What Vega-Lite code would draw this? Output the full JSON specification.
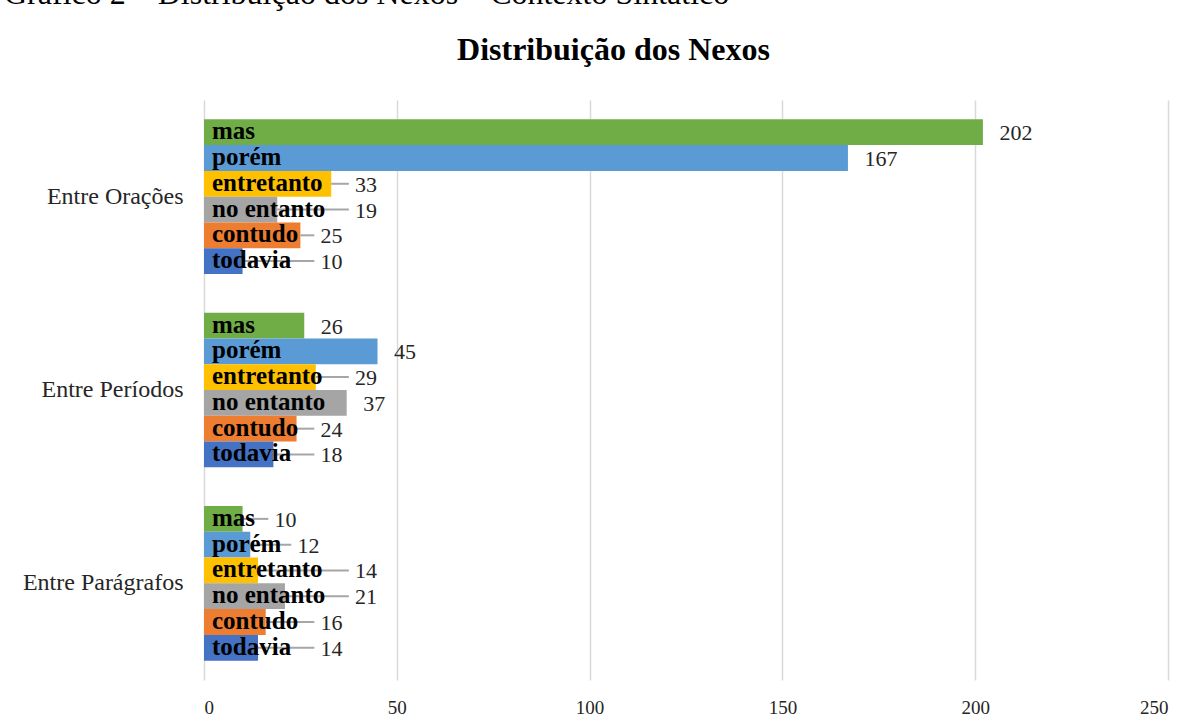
{
  "$schema": "https://vega.github.io/schema/vega-lite/v6.json",
  "width": 964,
  "height": 580,
  "autosize": {"type": "none"},
  "padding": {"left": 204, "top": 100, "right": 35, "bottom": 48},
  "background": "white",
  "title": {
    "text": "Gráfico 2 – Distribuição dos Nexos – Contexto Sintático",
    "anchor": "start",
    "frame": "group",
    "font": "Liberation Serif",
    "fontSize": 32,
    "fontWeight": 400,
    "color": "black",
    "dx": -200,
    "offset": 22
  },
  "config": {
    "view": {"stroke": null},
    "font": "Liberation Serif"
  },
  "data": {
    "values": [
      {"contexto": "Entre Orações", "nexo": "mas", "valor": 202},
      {"contexto": "Entre Orações", "nexo": "porém", "valor": 167},
      {"contexto": "Entre Orações", "nexo": "entretanto", "valor": 33},
      {"contexto": "Entre Orações", "nexo": "no entanto", "valor": 19},
      {"contexto": "Entre Orações", "nexo": "contudo", "valor": 25},
      {"contexto": "Entre Orações", "nexo": "todavia", "valor": 10},
      {"contexto": "Entre Períodos", "nexo": "mas", "valor": 26},
      {"contexto": "Entre Períodos", "nexo": "porém", "valor": 45},
      {"contexto": "Entre Períodos", "nexo": "entretanto", "valor": 29},
      {"contexto": "Entre Períodos", "nexo": "no entanto", "valor": 37},
      {"contexto": "Entre Períodos", "nexo": "contudo", "valor": 24},
      {"contexto": "Entre Períodos", "nexo": "todavia", "valor": 18},
      {"contexto": "Entre Parágrafos", "nexo": "mas", "valor": 10},
      {"contexto": "Entre Parágrafos", "nexo": "porém", "valor": 12},
      {"contexto": "Entre Parágrafos", "nexo": "entretanto", "valor": 14},
      {"contexto": "Entre Parágrafos", "nexo": "no entanto", "valor": 21},
      {"contexto": "Entre Parágrafos", "nexo": "contudo", "valor": 16},
      {"contexto": "Entre Parágrafos", "nexo": "todavia", "valor": 14}
    ]
  },
  "transform": [
    {"calculate": "(36 + length(datum.nexo) * 11.5) / 3.856", "as": "nameEnd"},
    {"calculate": "max(datum.valor + 4.3, datum.nameEnd)", "as": "lx"},
    {"calculate": "datum.lx - 1.6", "as": "lxe"},
    {"calculate": "datum.nameEnd > datum.valor + 4.3", "as": "lead"}
  ],
  "encoding": {
    "y": {
      "field": "contexto",
      "type": "nominal",
      "sort": ["Entre Orações", "Entre Períodos", "Entre Parágrafos"],
      "scale": {"paddingInner": 0.2, "paddingOuter": 0.1},
      "axis": {
        "title": null,
        "domain": false,
        "ticks": false,
        "labelFont": "Liberation Serif",
        "labelFontSize": 24,
        "labelColor": "#262626",
        "labelPadding": 21
      }
    },
    "yOffset": {
      "field": "nexo",
      "type": "nominal",
      "sort": ["mas", "porém", "entretanto", "no entanto", "contudo", "todavia"],
      "scale": {"paddingInner": 0, "paddingOuter": 0}
    }
  },
  "resolve": {"axis": {"x": "independent"}},
  "layer": [
    {
      "mark": {"type": "bar"},
      "encoding": {
        "x": {
          "field": "valor",
          "type": "quantitative",
          "scale": {"domain": [0, 250], "nice": false},
          "axis": {
            "title": null,
            "orient": "bottom",
            "values": [0, 50, 100, 150, 200, 250],
            "grid": true,
            "gridColor": "#d9d9d9",
            "gridWidth": 1.5,
            "domain": false,
            "ticks": false,
            "labelFont": "Liberation Serif",
            "labelFontSize": 19,
            "labelColor": "#262626",
            "labelPadding": 18
          }
        },
        "color": {
          "field": "nexo",
          "type": "nominal",
          "scale": {
            "domain": ["mas", "porém", "entretanto", "no entanto", "contudo", "todavia"],
            "range": ["#70AD47", "#5B9BD5", "#FFC000", "#A5A5A5", "#ED7D31", "#4472C4"]
          },
          "legend": null
        }
      }
    },
    {
      "transform": [{"filter": "datum.lead"}],
      "mark": {"type": "rule", "color": "#a6a6a6", "strokeWidth": 2, "yOffset": 2},
      "encoding": {
        "x": {
          "field": "valor",
          "type": "quantitative",
          "axis": {
            "orient": "top",
            "labels": false,
            "ticks": false,
            "domain": false,
            "grid": false,
            "title": "Distribuição dos Nexos",
            "titleFont": "Liberation Serif",
            "titleFontSize": 32,
            "titleFontWeight": "bold",
            "titleColor": "black",
            "titleX": 409,
            "titleY": -41,
            "titleAlign": "center",
            "titleBaseline": "alphabetic"
          }
        },
        "x2": {"field": "lxe"}
      }
    },
    {
      "mark": {
        "type": "text",
        "align": "left",
        "baseline": "middle",
        "dx": 8,
        "dy": -1,
        "font": "Liberation Serif",
        "fontSize": 25,
        "fontWeight": "bold",
        "color": "black"
      },
      "encoding": {
        "x": {"datum": 0, "type": "quantitative", "axis": null},
        "text": {"field": "nexo"}
      }
    },
    {
      "mark": {
        "type": "text",
        "align": "left",
        "baseline": "middle",
        "dy": 1,
        "font": "Liberation Serif",
        "fontSize": 22,
        "color": "#262626"
      },
      "encoding": {
        "x": {"field": "lx", "type": "quantitative", "axis": null},
        "text": {"field": "valor"}
      }
    }
  ]
}
